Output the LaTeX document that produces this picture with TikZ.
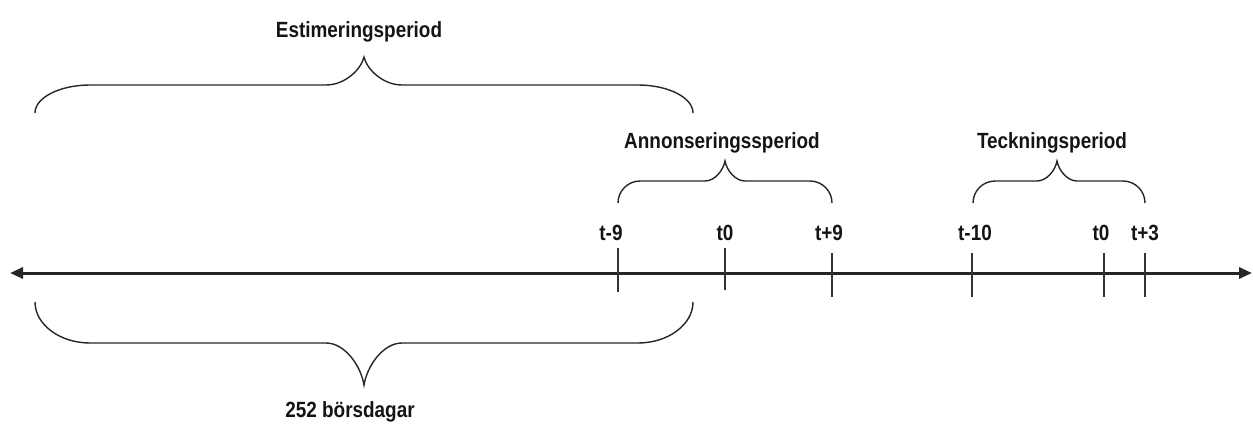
\documentclass[tikz,border=0pt]{standalone}
\usepackage{fontspec}
\setmainfont{Liberation Sans}
\newfontfamily\narrowfont[FakeStretch=0.86]{Liberation Sans}
\usetikzlibrary{arrows.meta}
\newcommand\curlybrace[8]{%
  \pgfmathsetmacro\cbA{#4+0.55*(#5-#4)}%
  \pgfmathsetmacro\cbB{#6+0.45*(#5-#6)}%
  \draw[brace] (#1,#4) .. controls (#1,\cbA) and ({#1+0.45*#7},#5) .. ({#1+#7},#5)
    -- ({#3-#8},#5) .. controls ({#3-0.5*#8},#5) and ({#3-0.08*#8},\cbB) .. (#3,#6)
    .. controls ({#3+0.08*#8},\cbB) and ({#3+0.5*#8},#5) .. ({#3+#8},#5)
    -- ({#2-#7},#5) .. controls ({#2-0.45*#7},#5) and (#2,\cbA) .. (#2,#4);}
\begin{document}
\begin{tikzpicture}[x=1pt,y=-1pt,
  lbl/.style={font=\narrowfont\bfseries\fontsize{22}{24}\selectfont, inner sep=0pt, anchor=base, text=black!92},
  brace/.style={line width=1.4pt, black!85},
  tickline/.style={line width=1.4pt, black!80},
  axis/.style={line width=3pt, black!85, {Triangle[length=13pt,width=11pt]}-{Triangle[length=13pt,width=11pt]}}]
\useasboundingbox (0,0) rectangle (1253,425);
% axis
\coordinate (L) at (10,273);
\coordinate (R) at (1252,273);
\draw[axis] (L) -- (R);
% ticks
\foreach \n/\x/\ya/\yb in {a/618/248/292, b/725/248/290, c/832/253/297, d/972/253/297, e/1104/253/297, f/1145/253/297}{
  \coordinate (t\n top) at (\x,\ya);
  \coordinate (t\n bot) at (\x,\yb);
  \draw[tickline] (t\n top) -- (t\n bot);
}
% tick labels
\node[lbl] (la) at (611,240) {t-9};
\node[lbl] (lb) at (725,240) {t0};
\node[lbl] (lc) at (829,240) {t+9};
\node[lbl] (ld) at (975,240) {t-10};
\node[lbl] (le) at (1101,240) {t0};
\node[lbl] (lf) at (1145,240) {t+3};
% braces
\curlybrace{35}{693}{364}{113}{85}{57}{55}{38}
\curlybrace{618}{832}{725}{203}{181}{161}{22}{20}
\curlybrace{973}{1145}{1057}{203}{181}{161}{22}{20}
\curlybrace{35}{693}{364}{302}{343}{385}{55}{38}
% brace labels
\node[lbl] (est) at (359,38) {Estimeringsperiod};
\node[lbl] (ann) at (722,149) {Annonseringssperiod};
\node[lbl] (teck) at (1052,149) {Teckningsperiod};
\node[lbl] (bors) at (350,417) {252 börsdagar};
\end{tikzpicture}
\end{document}
